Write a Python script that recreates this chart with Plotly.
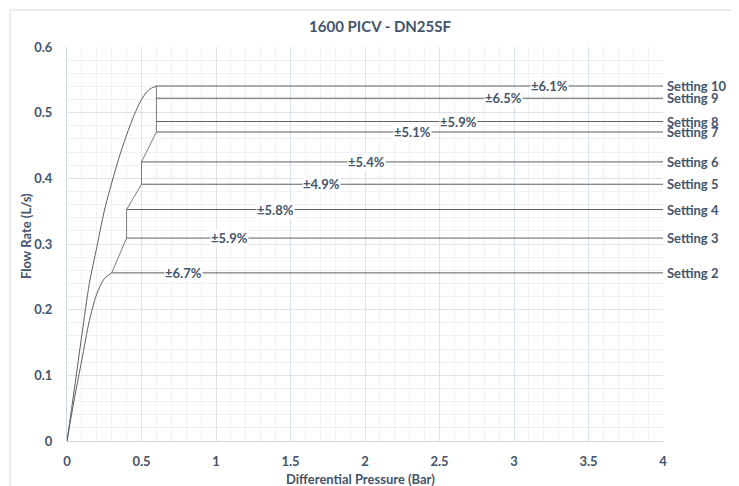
import plotly.graph_objects as go

# ---- data ----
settings = ["Setting 2", "Setting 3", "Setting 4", "Setting 5", "Setting 6",
            "Setting 7", "Setting 8", "Setting 9", "Setting 10"]
flow = [0.256, 0.309, 0.3525, 0.391, 0.425, 0.4706, 0.4865, 0.522, 0.5406]
start_dp = [0.3, 0.4, 0.4, 0.5, 0.5, 0.6, 0.6, 0.6, 0.6]
tolerance = ["±6.7%", "±5.9%", "±5.8%", "±4.9%", "±5.4%",
             "±5.1%", "±5.9%", "±6.5%", "±6.1%"]
tol_label_dp = [0.78, 1.09, 1.40, 1.71, 2.01, 2.32, 2.63, 2.93, 3.24]
end_dp = 4.0

# rising curve of the highest setting
hi_dp = [0, 0.05, 0.1, 0.15, 0.2, 0.25, 0.3, 0.35, 0.4, 0.45, 0.5, 0.55, 0.6]
hi_flow = [0, 0.08, 0.162, 0.24, 0.295, 0.35, 0.393, 0.432, 0.466, 0.496, 0.52, 0.535, 0.5406]
# rising curve of the lowest setting
lo_dp = [0, 0.05, 0.1, 0.15, 0.2, 0.25, 0.3]
lo_flow = [0, 0.065, 0.124, 0.183, 0.224, 0.247, 0.256]
# knee staircase between settings
knee_dp = [0.3, 0.4, 0.4, 0.5, 0.5, 0.6, 0.6]
knee_flow = [0.256, 0.309, 0.3525, 0.391, 0.425, 0.4706, 0.5406]

TXT = "#44546A"
LINE = "#5f5f5f"
FONT = "Lato"
FS = 13

# page offset of the figure (default body margin)
OFF = 8
W, H = 739 - OFF, 486 - OFF
L, T = 67 - OFF, 47 - OFF
R = 76
B = H - (441 - OFF)
PW = W - L - R
PH = H - T - B


def px(p):
    return (p - 67) / PW


def py(p):
    return (441 - p) / PH


fig = go.Figure()
fig.add_trace(go.Scatter(x=hi_dp, y=hi_flow, mode="lines",
                         line=dict(color=LINE, width=1, shape="spline", smoothing=0.8),
                         hoverinfo="skip", showlegend=False))
fig.add_trace(go.Scatter(x=lo_dp, y=lo_flow, mode="lines",
                         line=dict(color=LINE, width=1, shape="spline", smoothing=0.8),
                         hoverinfo="skip", showlegend=False))
fig.add_trace(go.Scatter(x=knee_dp, y=knee_flow, mode="lines",
                         line=dict(color="#7a7a7a", width=1),
                         hoverinfo="skip", showlegend=False))
for s, f, x0 in zip(settings, flow, start_dp):
    fig.add_trace(go.Scatter(x=[x0, end_dp], y=[f, f], mode="lines", name=s,
                             line=dict(color=LINE, width=1), showlegend=False))

annos = []
for s, f, t, tx in zip(settings, flow, tolerance, tol_label_dp):
    annos.append(dict(x=end_dp, y=f, text=s, showarrow=False, xanchor="left",
                      xshift=2, yanchor="middle",
                      font=dict(family=FONT, size=FS, color=TXT, weight="bold")))
    annos.append(dict(x=tx, y=f, text=t, showarrow=False, xanchor="center",
                      yanchor="middle", bgcolor="white", borderpad=0,
                      font=dict(family=FONT, size=FS, color=TXT, weight="bold")))

annos.append(dict(xref="paper", yref="paper", x=px(360), y=py(479),
                  text="Differential Pressure (Bar)", showarrow=False,
                  xanchor="center", yanchor="middle",
                  font=dict(family=FONT, size=FS, color=TXT, weight="bold")))
annos.append(dict(xref="paper", yref="paper", x=px(26), y=py(236),
                  text="Flow Rate (L/s)", showarrow=False, textangle=-90,
                  xanchor="center", yanchor="middle",
                  font=dict(family=FONT, size=FS, color=TXT, weight="bold")))

fig.update_layout(
    width=W, height=H,
    margin=dict(l=L, r=R, t=T, b=B, pad=0),
    paper_bgcolor="white", plot_bgcolor="white",
    title=dict(text="1600 PICV - DN25SF", x=(380 - OFF) / W, xref="container",
               y=1 - (27 - OFF) / H, yref="container", yanchor="middle", xanchor="center",
               font=dict(family=FONT, size=15, color=TXT, weight="bold")),
    annotations=annos,
    shapes=[dict(type="rect", xref="paper", yref="paper",
                 x0=px(10), x1=px(760), y0=py(500), y1=py(10),
                 line=dict(color="#D9D9D9", width=1), layer="below")],
    xaxis=dict(range=[0, 4], dtick=0.5, tick0=0, showgrid=True, gridcolor="#DCE3EB",
               gridwidth=1, zeroline=False, showline=True, linecolor="#D0D8E2",
               ticks="", ticklabelstandoff=8,
               tickfont=dict(family=FONT, size=FS, color=TXT, weight="bold"),
               minor=dict(dtick=0.1, showgrid=True, gridcolor="#EEF2F6", gridwidth=1),
               fixedrange=True),
    yaxis=dict(range=[0, 0.6], dtick=0.1, tick0=0, showgrid=True, gridcolor="#DCE3EB",
               gridwidth=1, zeroline=False, showline=True, linecolor="#D0D8E2",
               ticks="", ticklabelstandoff=11,
               tickfont=dict(family=FONT, size=FS, color=TXT, weight="bold"),
               minor=dict(dtick=0.02, showgrid=True, gridcolor="#EEF2F6", gridwidth=1),
               fixedrange=True),
)

fig.write_html("out.html")
